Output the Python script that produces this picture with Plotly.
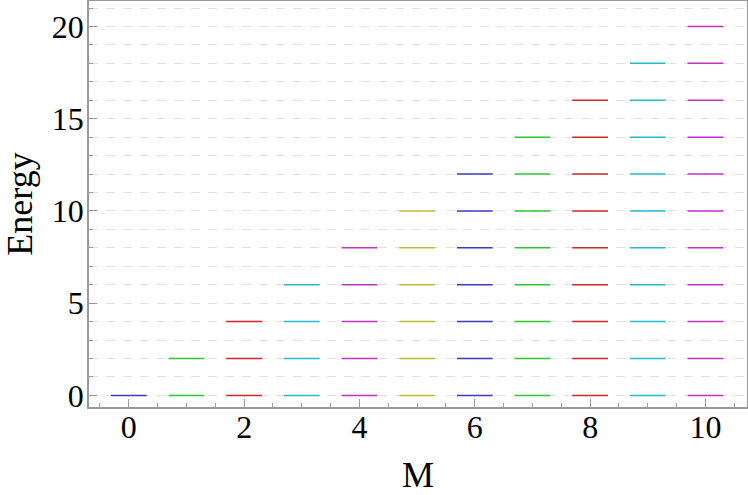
import plotly.graph_objects as go

# Data: allowed energy levels for each M
M_values = [0, 1, 2, 3, 4, 5, 6, 7, 8, 9, 10]
energy_levels = [
    [0],
    [0, 2],
    [0, 2, 4],
    [0, 2, 4, 6],
    [0, 2, 4, 6, 8],
    [0, 2, 4, 6, 8, 10],
    [0, 2, 4, 6, 8, 10, 12],
    [0, 2, 4, 6, 8, 10, 12, 14],
    [0, 2, 4, 6, 8, 10, 12, 14, 16],
    [0, 2, 4, 6, 8, 10, 12, 14, 16, 18],
    [0, 2, 4, 6, 8, 10, 12, 14, 16, 18, 20],
]
colors = ["#3a3ac4", "#2ec82e", "#d02626", "#22bccc", "#c82ec8", "#bcbc3a",
          "#3a3ac4", "#2ec82e", "#d02626", "#22bccc", "#c82ec8"]

half_width = 0.31

fig = go.Figure()
for m, levels, c in zip(M_values, energy_levels, colors):
    xs, ys = [], []
    for e in levels:
        xs += [m - half_width, m + half_width, None]
        ys += [e, e, None]
    fig.add_trace(go.Scatter(x=xs, y=ys, mode="lines",
                             line=dict(color=c, width=1.5),
                             showlegend=False, hoverinfo="skip"))

font_family = "Liberation Serif, Times New Roman, serif"
grid_color = "#e2e2e2"
axis_color = "#9a9a9a"

fig.update_layout(
    width=748, height=495,
    margin=dict(l=89, r=1, t=1, b=88),
    plot_bgcolor="white", paper_bgcolor="white",
    font=dict(family=font_family, color="black"),
)
fig.update_xaxes(
    automargin=False,
    range=[-0.69, 10.72],
    tickmode="linear", tick0=0, dtick=2,
    ticks="inside", ticklen=8, tickwidth=1, tickcolor=axis_color,
    tickfont=dict(size=32, family=font_family),
    ticklabelstandoff=-9,
    showline=True, linecolor=axis_color, linewidth=1.5, mirror=True,
    showgrid=False, zeroline=False,
    minor=dict(tick0=0, dtick=0.5, ticks="inside", ticklen=4, tickcolor=axis_color, showgrid=False),
    title=dict(text="M", font=dict(size=36, family=font_family), standoff=22),
)
fig.update_yaxes(
    automargin=False,
    range=[-0.63, 21.38],
    tickmode="linear", tick0=0, dtick=5,
    ticks="inside", ticklen=8, tickwidth=1, tickcolor=axis_color,
    tickfont=dict(size=32, family=font_family),
    ticklabelstandoff=-3,
    showline=True, linecolor=axis_color, linewidth=1.5, mirror=True,
    showgrid=True, gridcolor=grid_color, gridwidth=1, griddash="9px,8px",
    zeroline=False,
    minor=dict(tick0=0, dtick=1, ticks="inside", ticklen=4, tickcolor=axis_color,
               showgrid=True, gridcolor=grid_color, gridwidth=1, griddash="9px,8px"),
    title=dict(text="Energy", font=dict(size=36, family=font_family), standoff=14),
)

fig.write_html("out.html",
               config={"displayModeBar": False},
               post_script="document.body.style.margin='0';document.body.style.overflow='hidden';")
